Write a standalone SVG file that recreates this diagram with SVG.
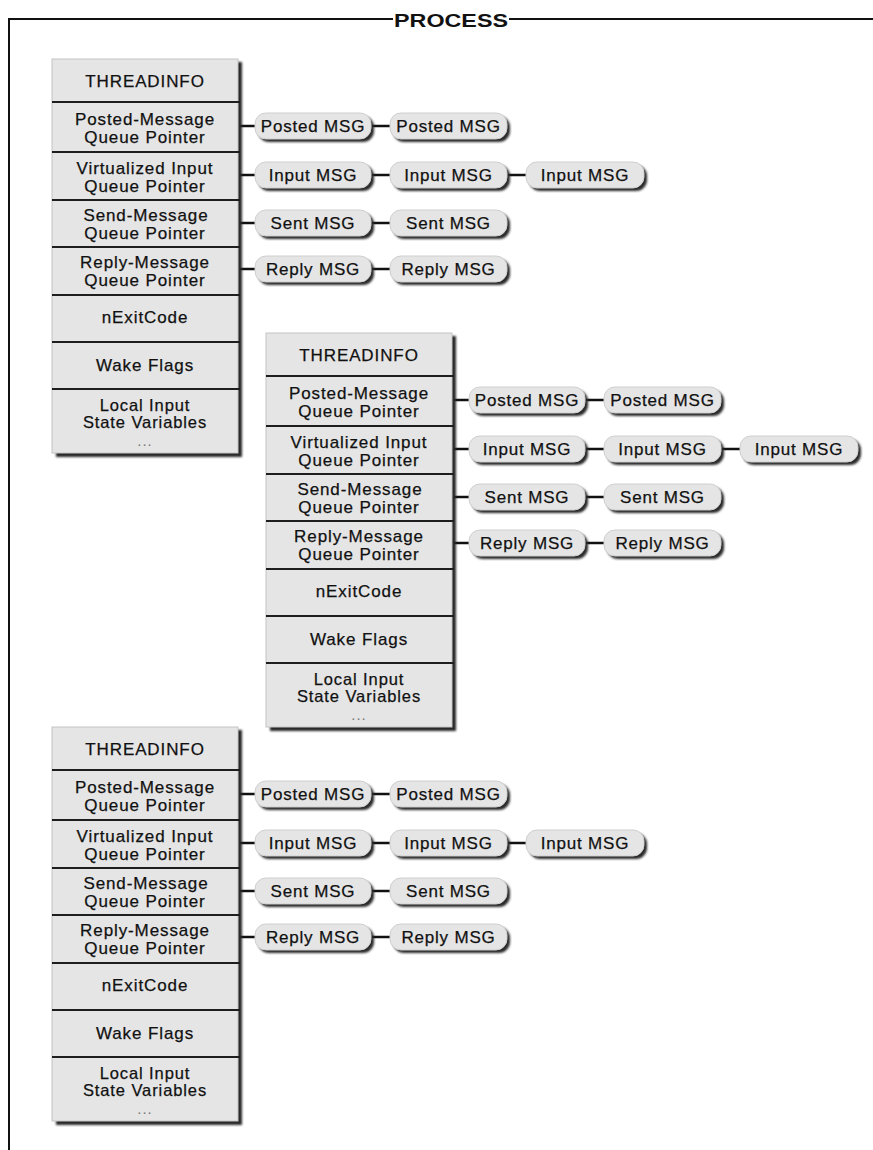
<svg xmlns="http://www.w3.org/2000/svg" width="873" height="1150" viewBox="0 0 873 1150">
<defs>
<style>
.frame{stroke:#111;stroke-width:2;fill:none}
.title{font-family:"Liberation Sans",Arial,sans-serif;font-weight:bold;font-size:19px;fill:#111;text-anchor:middle}
.bshadow{fill:#2a2a2a}
.box{fill:#e5e5e5;stroke:#c4c4c4;stroke-width:1}
.div{stroke:#1e1e1e;stroke-width:2;fill:none}
.bt{font-family:"Liberation Sans",Arial,sans-serif;font-size:17px;letter-spacing:0.9px;fill:#111;stroke:#111;stroke-width:0.25;text-anchor:middle}
.bs{font-family:"Liberation Sans",Arial,sans-serif;font-size:16.5px;letter-spacing:0.9px;fill:#111;stroke:#111;stroke-width:0.25;text-anchor:middle}
.dots{font-family:"Liberation Sans",Arial,sans-serif;font-size:15px;letter-spacing:1px;fill:#777;text-anchor:middle}
.pshadow{fill:#2a2a2a}
.pill{fill:#e5e5e5;stroke:#cfcfcf;stroke-width:1}
.pt{font-family:"Liberation Sans",Arial,sans-serif;font-size:17px;letter-spacing:0.8px;fill:#111;stroke:#111;stroke-width:0.25;text-anchor:middle}
.conn{stroke:#111;stroke-width:2.5;fill:none}
</style>
<filter id="soft" x="-10%" y="-10%" width="120%" height="130%"><feGaussianBlur stdDeviation="0.8"/></filter>
</defs>
<rect width="873" height="1150" fill="#ffffff"/>
<g id="frame">
<path class="frame" d="M9 1150V19H393M509 19H873"/>
<text class="title" x="451" y="27" textLength="114" lengthAdjust="spacingAndGlyphs">PROCESS</text>
</g>
<g id="connectors">
<g transform="translate(0,0)"><path class="conn" d="M238 126H255M371 126H390M238 175H255M371 175H390M507 175H526M238 223H255M371 223H390M238 269H255M371 269H390"/></g>
<g transform="translate(214,274)"><path class="conn" d="M238 126H255M371 126H390M238 175H255M371 175H390M507 175H526M238 223H255M371 223H390M238 269H255M371 269H390"/></g>
<g transform="translate(0,668)"><path class="conn" d="M238 126H255M371 126H390M238 175H255M371 175H390M507 175H526M238 223H255M371 223H390M238 269H255M371 269H390"/></g>
</g>
<g id="thread1" transform="translate(0,0)">
<g id="threadinfo1">
<rect class="bshadow" x="56" y="62" width="186" height="395" filter="url(#soft)"/>
<rect class="box" x="52" y="59" width="186" height="394"/>
<path class="div" d="M52 102H240M52 152H240M52 200H240M52 247H240M52 295H240M52 342H240M52 389H240"/>
<text class="bt" x="145" y="87">THREADINFO</text>
<text class="bt" x="145" y="125">Posted-Message</text><text class="bt" x="145" y="143">Queue Pointer</text>
<text class="bt" x="145" y="174">Virtualized Input</text><text class="bt" x="145" y="192">Queue Pointer</text>
<text class="bt" x="146" y="221">Send-Message</text><text class="bt" x="145" y="239">Queue Pointer</text>
<text class="bt" x="145" y="268">Reply-Message</text><text class="bt" x="145" y="286">Queue Pointer</text>
<text class="bt" x="145" y="323">nExitCode</text>
<text class="bt" x="145" y="371">Wake Flags</text>
<text class="bs" x="145" y="411">Local Input</text><text class="bs" x="145" y="428">State Variables</text>
<text class="dots" x="145" y="446">...</text>
</g>
<g id="t1-posted1"><rect class="pshadow" x="258" y="116" width="116" height="26" rx="11" filter="url(#soft)"/><rect class="pill" x="255" y="113" width="116" height="26" rx="11"/><text class="pt" x="313" y="132">Posted MSG</text></g>
<g id="t1-posted2"><rect class="pshadow" x="393" y="116" width="117" height="26" rx="11" filter="url(#soft)"/><rect class="pill" x="390" y="113" width="117" height="26" rx="11"/><text class="pt" x="448.5" y="132">Posted MSG</text></g>
<g id="t1-input1"><rect class="pshadow" x="258" y="165" width="116" height="26" rx="11" filter="url(#soft)"/><rect class="pill" x="255" y="162" width="116" height="26" rx="11"/><text class="pt" x="313" y="181">Input MSG</text></g>
<g id="t1-input2"><rect class="pshadow" x="393" y="165" width="117" height="26" rx="11" filter="url(#soft)"/><rect class="pill" x="390" y="162" width="117" height="26" rx="11"/><text class="pt" x="448.5" y="181">Input MSG</text></g>
<g id="t1-input3"><rect class="pshadow" x="529" y="165" width="118" height="26" rx="11" filter="url(#soft)"/><rect class="pill" x="526" y="162" width="118" height="26" rx="11"/><text class="pt" x="585" y="181">Input MSG</text></g>
<g id="t1-sent1"><rect class="pshadow" x="258" y="213" width="116" height="26" rx="11" filter="url(#soft)"/><rect class="pill" x="255" y="210" width="116" height="26" rx="11"/><text class="pt" x="313" y="229">Sent MSG</text></g>
<g id="t1-sent2"><rect class="pshadow" x="393" y="213" width="117" height="26" rx="11" filter="url(#soft)"/><rect class="pill" x="390" y="210" width="117" height="26" rx="11"/><text class="pt" x="448.5" y="229">Sent MSG</text></g>
<g id="t1-reply1"><rect class="pshadow" x="258" y="259" width="116" height="26" rx="11" filter="url(#soft)"/><rect class="pill" x="255" y="256" width="116" height="26" rx="11"/><text class="pt" x="313" y="275">Reply MSG</text></g>
<g id="t1-reply2"><rect class="pshadow" x="393" y="259" width="117" height="26" rx="11" filter="url(#soft)"/><rect class="pill" x="390" y="256" width="117" height="26" rx="11"/><text class="pt" x="448.5" y="275">Reply MSG</text></g>
</g>
<g id="thread2" transform="translate(214,274)">
<g id="threadinfo2">
<rect class="bshadow" x="56" y="62" width="186" height="395" filter="url(#soft)"/>
<rect class="box" x="52" y="59" width="186" height="394"/>
<path class="div" d="M52 102H240M52 152H240M52 200H240M52 247H240M52 295H240M52 342H240M52 389H240"/>
<text class="bt" x="145" y="87">THREADINFO</text>
<text class="bt" x="145" y="125">Posted-Message</text><text class="bt" x="145" y="143">Queue Pointer</text>
<text class="bt" x="145" y="174">Virtualized Input</text><text class="bt" x="145" y="192">Queue Pointer</text>
<text class="bt" x="146" y="221">Send-Message</text><text class="bt" x="145" y="239">Queue Pointer</text>
<text class="bt" x="145" y="268">Reply-Message</text><text class="bt" x="145" y="286">Queue Pointer</text>
<text class="bt" x="145" y="323">nExitCode</text>
<text class="bt" x="145" y="371">Wake Flags</text>
<text class="bs" x="145" y="411">Local Input</text><text class="bs" x="145" y="428">State Variables</text>
<text class="dots" x="145" y="446">...</text>
</g>
<g id="t2-posted1"><rect class="pshadow" x="258" y="116" width="116" height="26" rx="11" filter="url(#soft)"/><rect class="pill" x="255" y="113" width="116" height="26" rx="11"/><text class="pt" x="313" y="132">Posted MSG</text></g>
<g id="t2-posted2"><rect class="pshadow" x="393" y="116" width="117" height="26" rx="11" filter="url(#soft)"/><rect class="pill" x="390" y="113" width="117" height="26" rx="11"/><text class="pt" x="448.5" y="132">Posted MSG</text></g>
<g id="t2-input1"><rect class="pshadow" x="258" y="165" width="116" height="26" rx="11" filter="url(#soft)"/><rect class="pill" x="255" y="162" width="116" height="26" rx="11"/><text class="pt" x="313" y="181">Input MSG</text></g>
<g id="t2-input2"><rect class="pshadow" x="393" y="165" width="117" height="26" rx="11" filter="url(#soft)"/><rect class="pill" x="390" y="162" width="117" height="26" rx="11"/><text class="pt" x="448.5" y="181">Input MSG</text></g>
<g id="t2-input3"><rect class="pshadow" x="529" y="165" width="118" height="26" rx="11" filter="url(#soft)"/><rect class="pill" x="526" y="162" width="118" height="26" rx="11"/><text class="pt" x="585" y="181">Input MSG</text></g>
<g id="t2-sent1"><rect class="pshadow" x="258" y="213" width="116" height="26" rx="11" filter="url(#soft)"/><rect class="pill" x="255" y="210" width="116" height="26" rx="11"/><text class="pt" x="313" y="229">Sent MSG</text></g>
<g id="t2-sent2"><rect class="pshadow" x="393" y="213" width="117" height="26" rx="11" filter="url(#soft)"/><rect class="pill" x="390" y="210" width="117" height="26" rx="11"/><text class="pt" x="448.5" y="229">Sent MSG</text></g>
<g id="t2-reply1"><rect class="pshadow" x="258" y="259" width="116" height="26" rx="11" filter="url(#soft)"/><rect class="pill" x="255" y="256" width="116" height="26" rx="11"/><text class="pt" x="313" y="275">Reply MSG</text></g>
<g id="t2-reply2"><rect class="pshadow" x="393" y="259" width="117" height="26" rx="11" filter="url(#soft)"/><rect class="pill" x="390" y="256" width="117" height="26" rx="11"/><text class="pt" x="448.5" y="275">Reply MSG</text></g>
</g>
<g id="thread3" transform="translate(0,668)">
<g id="threadinfo3">
<rect class="bshadow" x="56" y="62" width="186" height="395" filter="url(#soft)"/>
<rect class="box" x="52" y="59" width="186" height="394"/>
<path class="div" d="M52 102H240M52 152H240M52 200H240M52 247H240M52 295H240M52 342H240M52 389H240"/>
<text class="bt" x="145" y="87">THREADINFO</text>
<text class="bt" x="145" y="125">Posted-Message</text><text class="bt" x="145" y="143">Queue Pointer</text>
<text class="bt" x="145" y="174">Virtualized Input</text><text class="bt" x="145" y="192">Queue Pointer</text>
<text class="bt" x="146" y="221">Send-Message</text><text class="bt" x="145" y="239">Queue Pointer</text>
<text class="bt" x="145" y="268">Reply-Message</text><text class="bt" x="145" y="286">Queue Pointer</text>
<text class="bt" x="145" y="323">nExitCode</text>
<text class="bt" x="145" y="371">Wake Flags</text>
<text class="bs" x="145" y="411">Local Input</text><text class="bs" x="145" y="428">State Variables</text>
<text class="dots" x="145" y="446">...</text>
</g>
<g id="t3-posted1"><rect class="pshadow" x="258" y="116" width="116" height="26" rx="11" filter="url(#soft)"/><rect class="pill" x="255" y="113" width="116" height="26" rx="11"/><text class="pt" x="313" y="132">Posted MSG</text></g>
<g id="t3-posted2"><rect class="pshadow" x="393" y="116" width="117" height="26" rx="11" filter="url(#soft)"/><rect class="pill" x="390" y="113" width="117" height="26" rx="11"/><text class="pt" x="448.5" y="132">Posted MSG</text></g>
<g id="t3-input1"><rect class="pshadow" x="258" y="165" width="116" height="26" rx="11" filter="url(#soft)"/><rect class="pill" x="255" y="162" width="116" height="26" rx="11"/><text class="pt" x="313" y="181">Input MSG</text></g>
<g id="t3-input2"><rect class="pshadow" x="393" y="165" width="117" height="26" rx="11" filter="url(#soft)"/><rect class="pill" x="390" y="162" width="117" height="26" rx="11"/><text class="pt" x="448.5" y="181">Input MSG</text></g>
<g id="t3-input3"><rect class="pshadow" x="529" y="165" width="118" height="26" rx="11" filter="url(#soft)"/><rect class="pill" x="526" y="162" width="118" height="26" rx="11"/><text class="pt" x="585" y="181">Input MSG</text></g>
<g id="t3-sent1"><rect class="pshadow" x="258" y="213" width="116" height="26" rx="11" filter="url(#soft)"/><rect class="pill" x="255" y="210" width="116" height="26" rx="11"/><text class="pt" x="313" y="229">Sent MSG</text></g>
<g id="t3-sent2"><rect class="pshadow" x="393" y="213" width="117" height="26" rx="11" filter="url(#soft)"/><rect class="pill" x="390" y="210" width="117" height="26" rx="11"/><text class="pt" x="448.5" y="229">Sent MSG</text></g>
<g id="t3-reply1"><rect class="pshadow" x="258" y="259" width="116" height="26" rx="11" filter="url(#soft)"/><rect class="pill" x="255" y="256" width="116" height="26" rx="11"/><text class="pt" x="313" y="275">Reply MSG</text></g>
<g id="t3-reply2"><rect class="pshadow" x="393" y="259" width="117" height="26" rx="11" filter="url(#soft)"/><rect class="pill" x="390" y="256" width="117" height="26" rx="11"/><text class="pt" x="448.5" y="275">Reply MSG</text></g>
</g>
</svg>
